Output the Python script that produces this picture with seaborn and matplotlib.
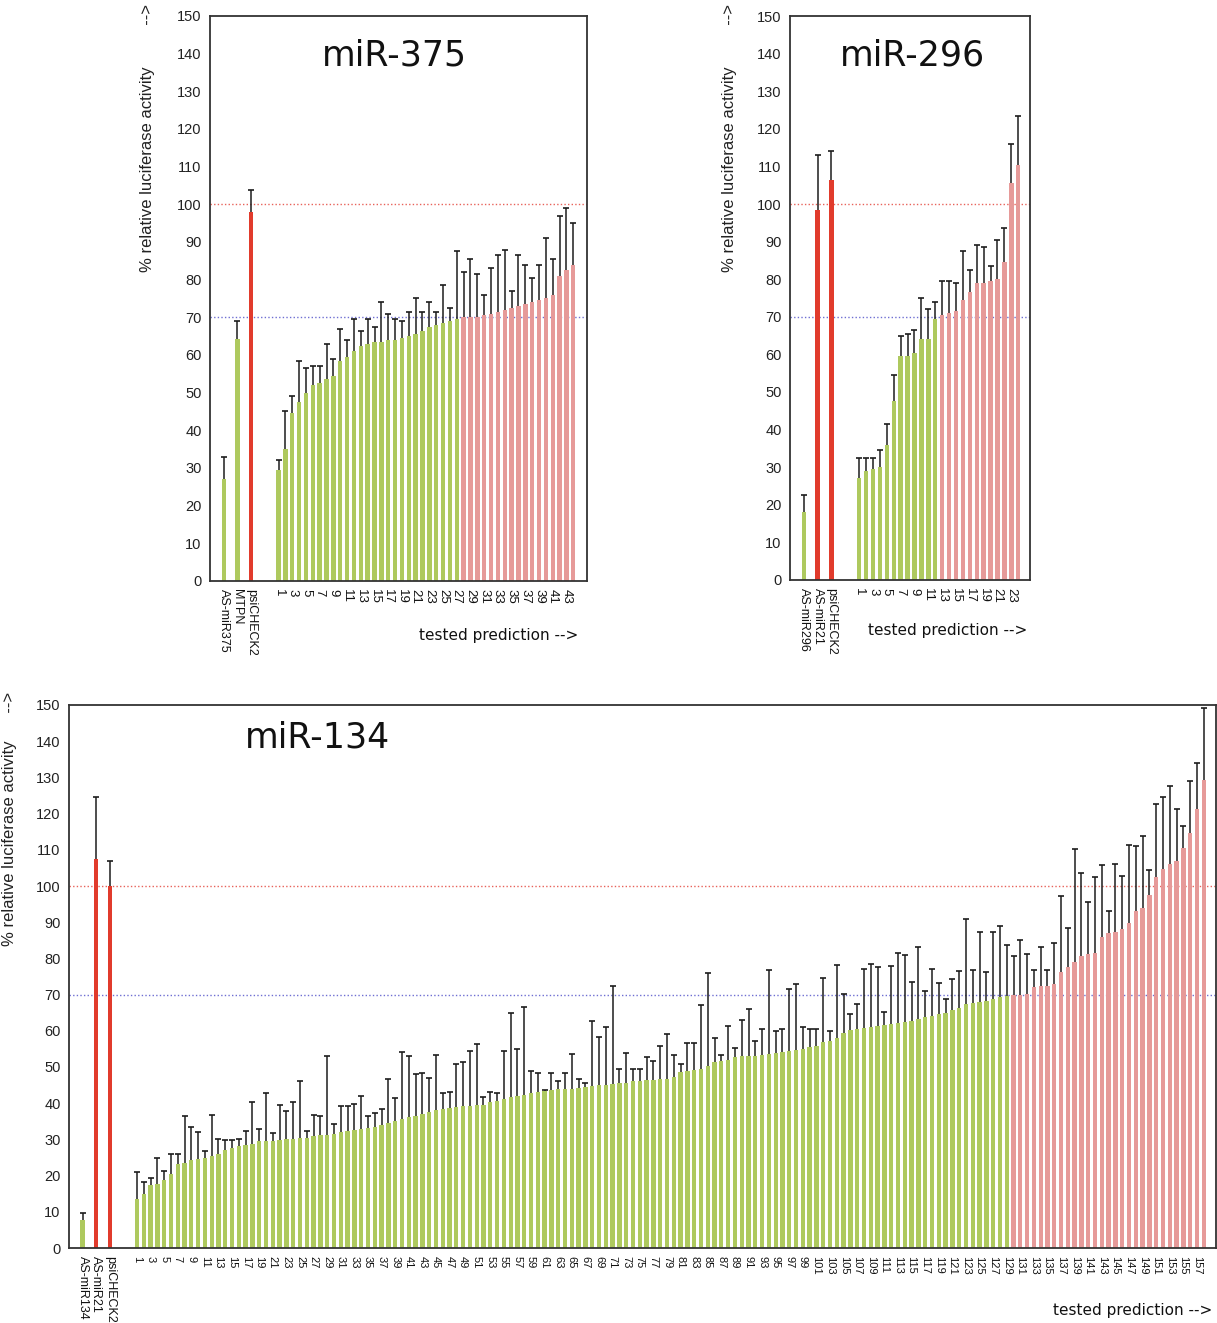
import numpy as np
import pandas as pd
import matplotlib
matplotlib.use("Agg")
import matplotlib.pyplot as plt
import seaborn as sns

# ---------------- data ----------------
m375_ctrl_labels = ["AS-miR375", "MTPN", "psiCHECK2"]
m375_ctrl_values = [27.0, 64.2, 98.0]
m375_ctrl_tops = [33.0, 69.0, 103.8]
m375_ctrl_groups = ["green", "green", "red"]
m375_values = [29.5, 35, 44.5, 47.5, 50, 52, 52.5, 53.5, 54.5, 58.5,
               59.5, 61, 62.5, 63, 63.5, 63.5, 64, 64, 64.5, 65,
               65.5, 66.5, 67.5, 68, 68.5, 69, 69.5, 70, 70, 70.2,
               70.5, 71, 71.5, 72, 72.5, 73, 73.5, 74, 74.5, 75,
               76, 81, 82.5, 84]
m375_tops = [32, 45, 49, 58.5, 56.5, 57, 57, 63, 59, 67,
             64, 69.5, 66.5, 69.5, 67.5, 74, 71, 69.5, 69, 71.5,
             75, 71.5, 74, 71.5, 78.5, 72.5, 87.5, 82, 85.5, 81.5,
             76, 83, 86.5, 88, 77, 86.5, 84, 80.5, 84, 91,
             85.5, 97, 99, 95]

m296_ctrl_labels = ["AS-miR296", "AS-miR21", "psiCHECK2"]
m296_ctrl_values = [18.0, 98.3, 106.5]
m296_ctrl_tops = [22.5, 113.0, 114.0]
m296_ctrl_groups = ["green", "red", "red"]
m296_values = [27, 29, 29.5, 30, 36, 47.5, 59.5, 59.5, 60.5, 64,
               64, 69.5, 70.5, 71, 71.5, 74.5, 76.5, 79, 79, 79.5,
               80, 84.5, 105.5, 110.5]
m296_tops = [32.5, 32.5, 32.5, 34.5, 41.5, 54.5, 65, 65.5, 66.5, 75,
             72, 74, 79.5, 79.5, 79, 87.5, 82.5, 89, 88.5, 83.5,
             90.5, 93.5, 116, 123.5]

m134_ctrl_labels = ["AS-miR134", "AS-miR21", "psiCHECK2"]
m134_ctrl_values = [7.8, 107.5, 100.0]
m134_ctrl_tops = [9.8, 124.5, 106.8]
m134_ctrl_groups = ["green", "red", "red"]
m134_values = [13.5, 14.8, 17.5, 17.8, 18.8, 20.4, 23.3, 23.5, 24.3, 24.7,
               24.8, 25.4, 26.0, 27.0, 27.6, 28.2, 28.5, 28.7, 29.5, 29.6,
               29.6, 29.7, 30.0, 30.1, 30.3, 30.5, 31.0, 31.1, 31.2, 31.6,
               32.0, 32.2, 32.6, 33.0, 33.1, 33.5, 34.0, 34.6, 35.0, 35.6,
               36.1, 36.5, 37.1, 37.7, 38.2, 38.4, 38.7, 38.9, 39.1, 39.3,
               39.4, 39.6, 40.3, 40.7, 41.1, 41.7, 42.0, 42.4, 42.8, 43.1,
               43.5, 43.7, 43.8, 43.9, 44.0, 44.2, 44.4, 44.7, 44.9, 45.0,
               45.2, 45.5, 45.7, 46.0, 46.2, 46.4, 46.4, 46.6, 46.6, 47.3,
               48.5, 49.0, 49.2, 49.4, 50.3, 51.4, 51.7, 52.0, 52.8, 53.0,
               53.0, 53.1, 53.3, 53.7, 54.0, 54.2, 54.4, 54.7, 55.1, 55.6,
               55.9, 56.8, 57.2, 58.1, 59.5, 60.2, 60.6, 60.9, 61.1, 61.4,
               61.6, 61.8, 62.1, 62.3, 62.8, 63.2, 63.7, 64.1, 64.6, 65.0,
               65.8, 66.4, 67.3, 67.6, 68.0, 68.3, 68.7, 69.2, 69.6, 70.0,
               70.0, 70.3, 72.1, 72.5, 72.5, 72.8, 76.2, 77.7, 79.1, 80.6,
               81.1, 81.5, 86.0, 87.0, 87.3, 88.0, 89.9, 93.2, 93.9, 97.6,
               102.6, 104.8, 106.2, 107.0, 110.6, 114.7, 121.4, 129.4]
m134_tops = [21.0, 18.3, 19.2, 25.0, 21.4, 26.0, 26.0, 36.5, 33.5, 32.0,
             26.8, 36.8, 30.2, 29.8, 29.8, 30.2, 32.3, 40.3, 33.0, 42.9,
             31.8, 39.5, 37.9, 40.3, 46.0, 32.2, 36.8, 36.5, 53.1, 34.2,
             39.2, 39.2, 39.9, 41.9, 36.5, 37.2, 38.3, 46.7, 41.3, 54.1,
             53.1, 48.1, 48.3, 46.9, 53.4, 42.9, 43.2, 50.7, 51.3, 54.4,
             56.3, 41.6, 43.2, 42.9, 54.4, 65.0, 55.0, 66.7, 48.9, 48.3,
             43.7, 48.3, 46.2, 48.3, 53.6, 46.6, 45.6, 62.8, 58.3, 61.1,
             72.5, 49.4, 53.9, 49.4, 49.4, 52.9, 51.6, 55.7, 59.0, 53.3,
             50.9, 56.6, 56.6, 67.1, 75.9, 58.0, 53.3, 61.4, 55.3, 63.0,
             66.0, 57.3, 60.6, 76.8, 60.0, 60.6, 71.5, 72.8, 61.0, 60.4,
             60.4, 74.5, 60.0, 78.2, 70.1, 64.6, 67.3, 77.2, 78.5, 77.5,
             65.3, 77.8, 81.6, 80.9, 73.5, 83.2, 71.1, 77.2, 73.1, 68.9,
             74.2, 76.5, 91.0, 76.7, 87.2, 76.2, 87.2, 89.0, 83.6, 80.8,
             85.2, 81.3, 76.7, 83.2, 76.7, 84.2, 97.3, 88.5, 110.1, 103.7,
             95.7, 102.4, 105.7, 93.2, 106.0, 102.7, 111.4, 111.1, 113.7, 104.4,
             122.6, 124.7, 127.6, 121.2, 116.5, 128.9, 133.9, 149.1]

yticks = list(range(0, 151, 10))
ylabel_text = "% relative luciferase activity"
xlabel_text = "tested prediction -->"

# ---------------- style ----------------
sns.set_theme(style="white")
plt.rcParams["font.family"] = ["Liberation Sans", "DejaVu Sans"]

PALETTE = {"green": "#aec95e", "red": "#e13b2c", "pink": "#e69a99"}
CTRL_SLOTS = np.array([2, 4, 6])
FIRST_PRED = 10

W, H = 1217, 1323
fig = plt.figure(figsize=(W / 100, H / 100), dpi=100)
fig.patch.set_facecolor("white")


def rect(l, t, r, b):
    return [l / W, 1 - b / H, (r - l) / W, (b - t) / H]


def panel(ax, ctrl_labels, ctrl_vals, ctrl_tops, ctrl_groups, vals, tops,
          title, title_xy, right, ylab_xy, ylab_gap, xlab_xy, num_fs, capsize):
    n = len(vals)
    slots = np.concatenate([CTRL_SLOTS, FIRST_PRED + np.arange(n)]).astype(float)
    v = np.concatenate([ctrl_vals, vals]).astype(float)
    t = np.concatenate([ctrl_tops, tops]).astype(float)
    groups = list(ctrl_groups) + ["green" if x < 70 else "pink" for x in vals]
    df = pd.DataFrame({"slot": slots, "value": v, "group": groups})

    ax.axhline(100, color="#e8625a", lw=1.0, ls=(0, (1, 1.6)), zorder=1)
    ax.axhline(70, color="#6f6fd2", lw=1.0, ls=(0, (1, 1.6)), zorder=1)

    sns.barplot(data=df, x="slot", y="value", hue="group", palette=PALETTE,
                native_scale=True, dodge=False, width=0.64, saturation=1,
                errorbar=None, legend=False, linewidth=0, ax=ax, zorder=2)
    eb = ax.errorbar(slots, v, yerr=[np.zeros_like(v), t - v], fmt="none",
                     ecolor="#1c1c1c", elinewidth=1.1, capsize=capsize,
                     capthick=1.2, zorder=3)
    for cl in eb[1]:
        if np.allclose(cl.get_ydata(), v):
            cl.set_visible(False)

    ax.set_xlim(0, right)
    ax.set_ylim(0, 150)
    ax.set_yticks(yticks)
    ax.set_yticklabels([str(y) for y in yticks], fontsize=10.5, color="#222222")

    pred_idx = np.arange(0, n, 2)
    major_pos = list(CTRL_SLOTS) + list(FIRST_PRED + pred_idx)
    major_lab = list(ctrl_labels) + [str(i + 1) for i in pred_idx]
    ax.set_xticks(major_pos)
    ax.set_xticklabels(major_lab, rotation=270, ha="center", va="top")
    for lab in ax.get_xticklabels():
        lab.set_fontsize(9 if not lab.get_text().isdigit() else num_fs)
        lab.set_color("#111111")
    ax.set_xticks(np.arange(0, right + 0.01, 1), minor=True)
    ax.tick_params(axis="both", which="both", direction="out", length=4,
                   width=1.0, color="#222222", pad=1.5)
    ax.tick_params(axis="y", pad=2)

    for sp in ax.spines.values():
        sp.set_color("#333333")
        sp.set_linewidth(1.3)

    ax.set_xlabel("")
    ax.set_ylabel(ylabel_text + " " * ylab_gap + "-->", fontsize=12,
                  color="#222222")
    ax.yaxis.set_label_coords(*ylab_xy)
    ax.text(title_xy[0], title_xy[1], title, transform=ax.transAxes,
            ha="center", va="center", fontsize=25, family="DejaVu Sans",
            color="#111111")
    ax.text(xlab_xy[0], xlab_xy[1], xlabel_text, transform=ax.transAxes,
            ha="right", va="center", fontsize=11, family="DejaVu Sans",
            color="#111111")


ax1 = fig.add_axes(rect(210, 16, 587, 581))
panel(ax1, m375_ctrl_labels, m375_ctrl_values, m375_ctrl_tops, m375_ctrl_groups,
      m375_values, m375_tops, "miR-375", (0.49, 0.93), 55.0,
      (-0.146, 0.784), 9, (0.976, -0.097), 9.5, 2.4)

ax2 = fig.add_axes(rect(790, 16, 1030, 580))
panel(ax2, m296_ctrl_labels, m296_ctrl_values, m296_ctrl_tops, m296_ctrl_groups,
      m296_values, m296_tops, "miR-296", (0.51, 0.93), 34.7,
      (-0.22, 0.784), 9, (0.99, -0.09), 9.5, 2.4)

ax3 = fig.add_axes(rect(69, 705, 1216, 1248))
panel(ax3, m134_ctrl_labels, m134_ctrl_values, m134_ctrl_tops, m134_ctrl_groups,
      m134_values, m134_tops, "miR-134", (0.217, 0.941), 168.8,
      (-0.045, 0.79), 6, (0.997, -0.116), 8, 2.2)

fig.savefig("out.png", dpi=100, facecolor="white")
